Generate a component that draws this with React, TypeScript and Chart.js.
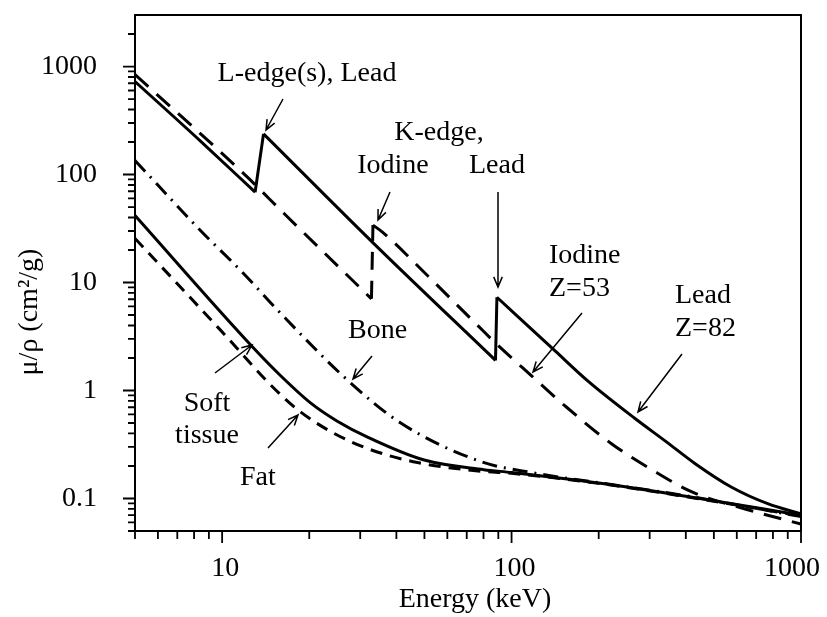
import React, { useEffect, useRef } from 'react';
import { Chart, registerables } from 'chart.js';

Chart.register(...registerables);

// ---- Data ----
const leadEnergy = [5, 8.4, 13.0, 13.9, 33.5, 88, 89, 142, 185, 267, 340, 431, 576, 771, 1000];
const leadMu = [726, 205, 68.6, 238, 22.8, 1.9, 7.3, 2.3, 1.2, 0.55, 0.34, 0.21, 0.127, 0.089, 0.072];
const leadEdgeAfter = [2, 5]; // absorption edges: jump after these indices

const iodineEnergy = [5, 12.1, 16.4, 32.8, 33.2, 35.8, 51.2, 77.1, 88, 117.8, 153, 222, 305, 420, 641, 1000];
const iodineMu = [843, 97, 43.3, 7.06, 34, 29.3, 11.6, 3.9, 2.75, 1.35, 0.72, 0.32, 0.185, 0.115, 0.08, 0.058];
const iodineEdgeAfter = [3];

const boneEnergy = [5, 8.35, 11.9, 15.8, 27.1, 41.4, 78.2, 120, 200, 400, 1000];
const boneMu = [135, 31, 12.0, 5.3, 1.25, 0.5, 0.22, 0.172, 0.14, 0.106, 0.068];

const softEnergy = [5, 12.6, 15.8, 20.3, 25, 31.8, 49.9, 80.2, 100, 200, 400, 1000];
const softMu = [41.7, 2.61, 1.4, 0.76, 0.52, 0.37, 0.227, 0.185, 0.174, 0.139, 0.105, 0.07];

const fatEnergy = [5, 9.8, 15.1, 18.7, 24, 31.8, 47.3, 80, 100, 200, 400, 1000];
const fatMu = [25.6, 3.7, 1.05, 0.63, 0.41, 0.29, 0.215, 0.178, 0.171, 0.138, 0.104, 0.069];

const xMajorTicks = [10, 100, 1000];
const xMinorTicks = [5, 6, 7, 8, 9, 20, 30, 40, 50, 60, 70, 80, 90, 200, 300, 400, 500, 600, 700, 800, 900];
const yMajorTicks = [0.1, 1, 10, 100, 1000];
const yMinorTicks = [0.05, 0.06, 0.07, 0.08, 0.09, 0.2, 0.3, 0.4, 0.5, 0.6, 0.7, 0.8, 0.9,
  2, 3, 4, 5, 6, 7, 8, 9, 20, 30, 40, 50, 60, 70, 80, 90, 200, 300, 400, 500, 600, 700, 800, 900, 2000];
const xTickLabels = ['10', '100', '1000'];
const yTickLabels = ['0.1', '1', '10', '100', '1000'];

const xTitle = 'Energy (keV)';
const yTitle = 'μ/ρ (cm²/g)';

// annotation texts
const annotations = [
  { text: 'L-edge(s), Lead', x: 307, y: 81, align: 'center' },
  { text: 'K-edge,', x: 439, y: 140, align: 'center' },
  { text: 'Iodine', x: 393, y: 173, align: 'center' },
  { text: 'Lead', x: 497, y: 173, align: 'center' },
  { text: 'Iodine', x: 549, y: 263, align: 'left' },
  { text: 'Z=53', x: 549, y: 296, align: 'left' },
  { text: 'Lead', x: 675, y: 303, align: 'left' },
  { text: 'Z=82', x: 675, y: 336, align: 'left' },
  { text: 'Bone', x: 348, y: 338, align: 'left' },
  { text: 'Soft', x: 207, y: 411, align: 'center' },
  { text: 'tissue', x: 207, y: 443, align: 'center' },
  { text: 'Fat', x: 240, y: 485, align: 'left' },
];

const arrows = [
  [283, 99, 266, 130],
  [390, 192, 378, 220],
  [498, 192, 498, 287],
  [582, 313, 533, 372],
  [682, 354, 638, 412],
  [372, 356, 353, 379],
  [215, 373, 252, 345],
  [268, 448, 298, 415],
];

const FONT = '28px "Liberation Serif", "Times New Roman", serif';

const pts = (xs: number[], ys: number[]) => xs.map((x, i) => ({ x, y: ys[i] }));

// split a curve into smooth pieces + straight edge jumps
function curveDatasets(label: string, xs: number[], ys: number[], edges: number[], style: any) {
  const out: any[] = [];
  let start = 0;
  const stops = [...edges, xs.length - 1];
  stops.forEach((e) => {
    out.push({ ...style, label, data: pts(xs.slice(start, e + 1), ys.slice(start, e + 1)), cubicInterpolationMode: 'monotone' });
    if (e < xs.length - 1) {
      out.push({ ...style, label: label + ' edge', data: pts(xs.slice(e, e + 2), ys.slice(e, e + 2)) });
    }
    start = e + 1;
  });
  return out;
}

const decorPlugin = {
  id: 'decor',
  afterDraw(chart: any) {
    const ctx = chart.ctx as CanvasRenderingContext2D;
    const { left, right, top, bottom } = chart.chartArea;
    const xs = chart.scales.x;
    const ys = chart.scales.y;
    ctx.save();
    ctx.strokeStyle = '#000';
    ctx.fillStyle = '#000';
    // frame
    ctx.lineWidth = 2;
    ctx.strokeRect(left, top, right - left, bottom - top);
    // ticks
    ctx.lineWidth = 1.8;
    ctx.beginPath();
    xMajorTicks.forEach((v) => {
      const p = xs.getPixelForValue(v);
      ctx.moveTo(p, bottom); ctx.lineTo(p, bottom + 12);
    });
    xMinorTicks.forEach((v) => {
      const p = xs.getPixelForValue(v);
      ctx.moveTo(p, bottom); ctx.lineTo(p, bottom + 8);
    });
    yMajorTicks.forEach((v) => {
      const p = ys.getPixelForValue(v);
      ctx.moveTo(left, p); ctx.lineTo(left - 12, p);
    });
    yMinorTicks.forEach((v) => {
      const p = ys.getPixelForValue(v);
      ctx.moveTo(left, p); ctx.lineTo(left - 7, p);
    });
    ctx.stroke();
    // tick labels
    ctx.font = FONT;
    ctx.textBaseline = 'middle';
    ctx.textAlign = 'center';
    xMajorTicks.forEach((v, i) => {
      const p = xs.getPixelForValue(v);
      const w = ctx.measureText(xTickLabels[i]).width;
      const cx = Math.min(p + 3, 820 - w / 2);
      ctx.fillText(xTickLabels[i], cx, bottom + 38);
    });
    ctx.textAlign = 'right';
    yMajorTicks.forEach((v, i) => {
      const p = ys.getPixelForValue(v);
      ctx.fillText(yTickLabels[i], left - 38, p);
    });
    // axis titles
    ctx.textAlign = 'center';
    ctx.fillText(xTitle, 475, 600);
    ctx.save();
    ctx.translate(30, 312);
    ctx.rotate(-Math.PI / 2);
    ctx.fillText(yTitle, 0, 0);
    ctx.restore();
    // annotations
    ctx.textBaseline = 'alphabetic';
    annotations.forEach((a) => {
      ctx.textAlign = a.align as CanvasTextAlign;
      ctx.fillText(a.text, a.x, a.y);
    });
    // arrows
    ctx.lineWidth = 1.5;
    arrows.forEach(([x1, y1, x2, y2]) => {
      const ang = Math.atan2(y2 - y1, x2 - x1);
      const hl = 11;
      const spread = 0.4;
      ctx.beginPath();
      ctx.moveTo(x1, y1);
      ctx.lineTo(x2, y2);
      ctx.moveTo(x2 - hl * Math.cos(ang - spread), y2 - hl * Math.sin(ang - spread));
      ctx.lineTo(x2, y2);
      ctx.lineTo(x2 - hl * Math.cos(ang + spread), y2 - hl * Math.sin(ang + spread));
      ctx.stroke();
    });
    ctx.restore();
  },
};

export default function App() {
  const ref = useRef<HTMLCanvasElement>(null);
  useEffect(() => {
    document.body.style.margin = '0';
    const canvas = ref.current as HTMLCanvasElement;
    const common = { pointRadius: 0, borderColor: '#000', borderWidth: 3, tension: 0, fill: false };
    const datasets = [
      ...curveDatasets('Lead', leadEnergy, leadMu, leadEdgeAfter, common),
      ...curveDatasets('Iodine', iodineEnergy, iodineMu, iodineEdgeAfter, { ...common, borderDash: [18, 11] }),
      ...curveDatasets('Bone', boneEnergy, boneMu, [], { ...common, borderDash: [15, 7, 2, 7] }),
      ...curveDatasets('Soft tissue', softEnergy, softMu, [], common),
      ...curveDatasets('Fat', fatEnergy, fatMu, [], { ...common, borderDash: [12, 8] }),
    ];
    const chart = new Chart(canvas, {
      type: 'line',
      data: { datasets } as any,
      options: {
        animation: false,
        responsive: false,
        devicePixelRatio: 1,
        layout: { padding: { left: 135, right: 26, top: 15, bottom: 86 } },
        plugins: { legend: { display: false }, tooltip: { enabled: false } },
        scales: {
          x: {
            type: 'logarithmic', min: 5, max: 1000,
            grid: { display: false, drawTicks: false }, border: { display: false },
            ticks: { display: false },
            afterFit: (s: any) => { s.height = 0; },
          },
          y: {
            type: 'logarithmic', min: 0.05, max: 3000,
            grid: { display: false, drawTicks: false }, border: { display: false },
            ticks: { display: false },
            afterFit: (s: any) => { s.width = 0; },
          },
        },
      } as any,
      plugins: [decorPlugin],
    });
    return () => chart.destroy();
  }, []);
  return <canvas ref={ref} width={827} height={617} style={{ display: 'block' }} />;
}
